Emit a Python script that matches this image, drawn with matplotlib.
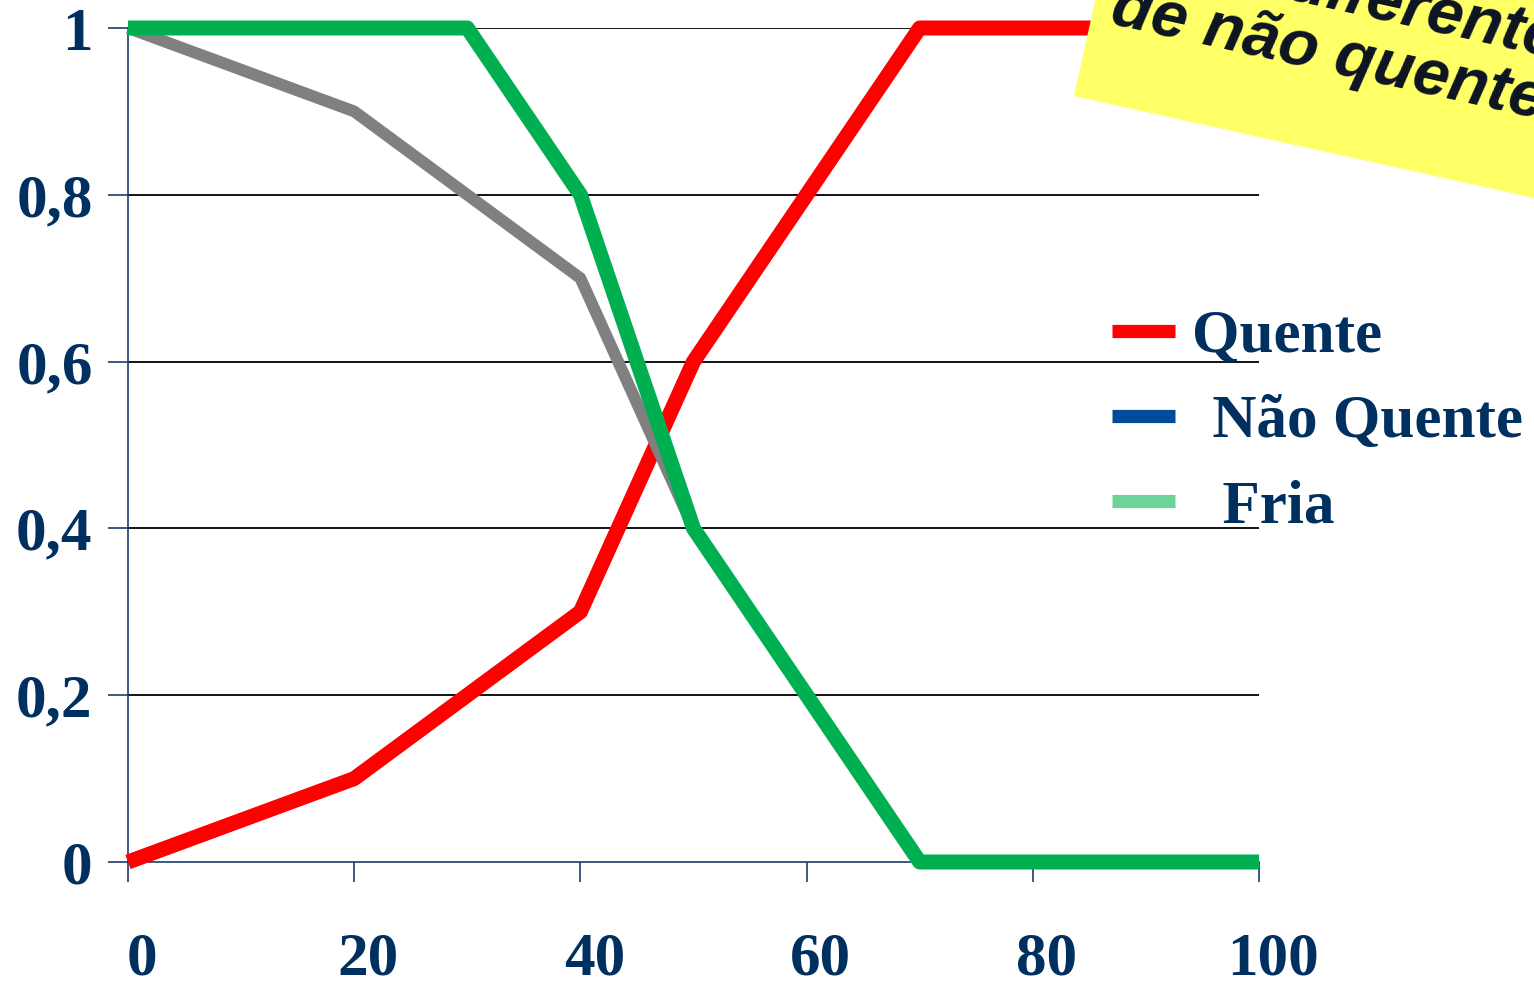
import numpy as np
import matplotlib
matplotlib.use('Agg')
import matplotlib.pyplot as plt
from matplotlib.lines import Line2D
from matplotlib.patches import Rectangle
from matplotlib.font_manager import FontProperties
from matplotlib.transforms import ScaledTranslation

# temperatura e graus de pertinência
temp = [0, 10, 20, 30, 40, 50, 60, 70, 80, 90, 100]
quente = [0, 0.05, 0.1, 0.2, 0.3, 0.6, 0.8, 1, 1, 1, 1]
nao_quente = [1, 0.95, 0.9, 0.8, 0.7, 0.4, 0.2, 0, 0, 0, 0]
fria = [1, 1, 1, 1, 0.8, 0.4, 0.2, 0, 0, 0, 0]

x_ticks = [0, 20, 40, 60, 80, 100]
y_ticks = [0, 0.2, 0.4, 0.6, 0.8, 1]
y_labels = ['0', '0,2', '0,4', '0,6', '0,8', '1']
legenda = ['Quente', ' \u200aNão Quente', '  Fria']
nota = ['Fria é diferente', 'de não quente']

azul = '#00305F'
serif = ['Liberation Serif', 'DejaVu Serif']

fig = plt.figure(figsize=(15.34, 9.85), dpi=100)
ax = fig.add_axes([128 / 1534, 1 - 862 / 985, (1259 - 128) / 1534, (862 - 28) / 985])

# linhas (vermelho por baixo, verde por cima)
estilo = dict(clip_on=False, solid_joinstyle='round', solid_capstyle='butt')
ax.plot(temp, quente, color='#FF0000', lw=10.8, zorder=3, **estilo)
ax.plot(temp, nao_quente, color='#808080', lw=8.5, zorder=4, **estilo)
ax.plot(temp, fria, color='#00B050', lw=10.8, zorder=5, **estilo)

ax.set_xlim(0, 100)
ax.set_ylim(0, 1)
ax.set_xticks(x_ticks)
ax.set_xticklabels([str(v) for v in x_ticks])
ax.set_yticks(y_ticks)
ax.set_yticklabels(y_labels)

for v in y_ticks[1:]:
    ax.axhline(v, color='black', lw=1.3, zorder=1)

for s in ['top', 'right']:
    ax.spines[s].set_visible(False)
for s in ['left', 'bottom']:
    ax.spines[s].set_color('#1F3B6E')
    ax.spines[s].set_linewidth(1.2)
    ax.spines[s].set_zorder(2)

ax.tick_params(axis='both', direction='out', length=14.5, width=1.2, color='#1F3B6E',
               labelsize=44, labelcolor=azul)
ax.tick_params(axis='x', pad=35.5)
ax.tick_params(axis='y', pad=11)
for lab in ax.get_xticklabels() + ax.get_yticklabels():
    lab.set_fontfamily(serif)
    lab.set_fontweight('bold')
desloc = ScaledTranslation(0.14, 0, fig.dpi_scale_trans)
for lab in ax.get_xticklabels():
    lab.set_transform(lab.get_transform() + desloc)

# legenda
alcas = [Line2D([], [], color=c, lw=9.5, solid_capstyle='butt')
         for c in ['#FF0000', '#004C99', '#6DD39A']]
fig.legend(alcas, legenda, loc='upper left', bbox_to_anchor=(1112 / 1534, 1 - 309 / 985),
           frameon=False, borderpad=0, borderaxespad=0, handlelength=1.03,
           handletextpad=0.28, labelspacing=0.48,
           prop=FontProperties(family=serif, weight='bold', size=44), labelcolor=azul)

# nota amarela inclinada
ang = -12.5
fig.patches.append(Rectangle((10.74, 8.89), 8, 4, angle=ang, facecolor='#FFFF66',
                             edgecolor='none', transform=fig.dpi_scale_trans, zorder=10))
fp_nota = FontProperties(family=['Liberation Sans', 'DejaVu Sans'], weight='bold',
                         style='italic', size=47)
r = fig.canvas.get_renderer()
larg = r.get_text_width_height_descent(nota[1], fp_nota, ismath=False)[0] / 100
t = np.radians(ang)
d = np.array([np.cos(t), np.sin(t)])
n = np.array([-np.sin(t), np.cos(t)])
ini = np.array([11.09, 9.62])
fim2 = ini + larg * d
fim1 = fim2 + 0.62 * n
for txt, p in zip(nota, [fim1, fim2]):
    fig.text(p[0], p[1], txt, transform=fig.dpi_scale_trans, rotation=ang,
             rotation_mode='anchor', ha='right', va='baseline', color='#0D1422',
             fontproperties=fp_nota, zorder=11)

fig.savefig('out.png', dpi=100)
